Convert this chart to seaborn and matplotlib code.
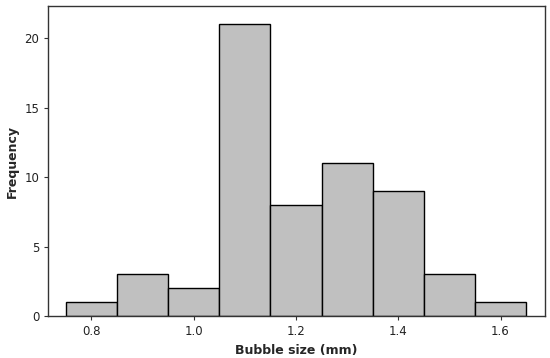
import numpy as np
import pandas as pd
import matplotlib
matplotlib.use("Agg")
import matplotlib.pyplot as plt
import seaborn as sns

# Bin centres (mm) and counts
bubble_size = [0.8, 0.9, 1.0, 1.1, 1.2, 1.3, 1.4, 1.5, 1.6]
frequency = [1, 3, 2, 21, 8, 11, 9, 3, 1]
bin_edges = [0.75, 0.85, 0.95, 1.05, 1.15, 1.25, 1.35, 1.45, 1.55, 1.65]
x_ticks = [0.8, 1.0, 1.2, 1.4, 1.6]
y_ticks = [0, 5, 10, 15, 20]

df = pd.DataFrame({"size": bubble_size, "count": frequency})

sns.set_style("ticks")
plt.rcParams['font.family'] = ['DejaVu Sans']

fig, ax = plt.subplots(figsize=(5.5, 3.58), dpi=100)
sns.histplot(data=df, x="size", weights="count", bins=bin_edges,
             color="#c0c0c0", edgecolor="black", linewidth=1.0, alpha=1.0, ax=ax)

ax.set_xlim(0.716, 1.686)
ax.set_ylim(0, 22.3)
ax.set_xticks(x_ticks)
ax.set_xticklabels([f"{t:.1f}" for t in x_ticks])
ax.set_yticks(y_ticks)
ax.tick_params(axis="both", labelsize=8.5, length=3, width=0.8, colors="#333333",
               labelcolor="#222222")
ax.set_xlabel("Bubble size (mm)", fontsize=9, fontweight="bold")
ax.set_ylabel("Frequency", fontsize=9, fontweight="bold")
for s in ax.spines.values():
    s.set_visible(True)
    s.set_color("#333333")
    s.set_linewidth(1.0)

plt.subplots_adjust(left=0.088, right=0.99, top=0.983, bottom=0.117)
plt.savefig("out.png", dpi=100)
